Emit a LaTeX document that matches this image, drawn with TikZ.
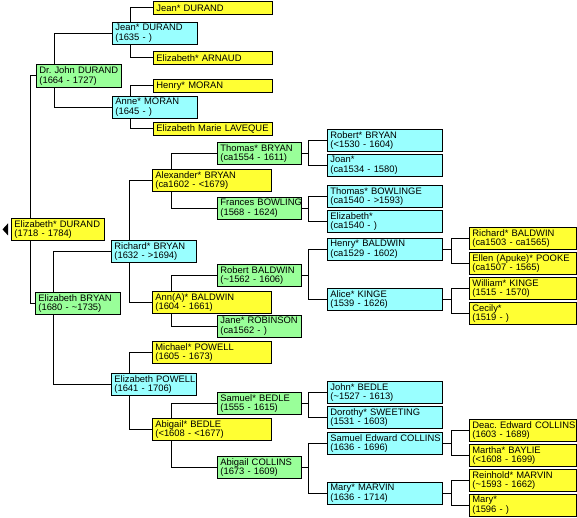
\documentclass[tikz,border=0pt]{standalone}
\usepackage{fontspec}
\setmainfont{Liberation Sans}
\definecolor{yel}{HTML}{FFFF33}
\definecolor{cya}{HTML}{99FFFF}
\definecolor{grn}{HTML}{99FF99}
\newcommand\two[2]{\mbox{#1}\\\mbox{#2}}
\begin{document}
\begin{tikzpicture}[x=1pt,y=-1pt,
  pbox/.style={draw, line width=0.8pt, anchor=north west, inner xsep=3pt, inner ysep=0pt,
    align=left, font=\fontsize{9.4}{9.5}\selectfont\frenchspacing, minimum height=22pt},
  yb/.style={pbox, fill=yel}, cb/.style={pbox, fill=cya}, gb/.style={pbox, fill=grn},
  c0/.style={text width=87pt, minimum width=93pt},
  c1/.style={text width=79pt, minimum width=85pt},
  c2/.style={text width=79pt, minimum width=85pt},
  c3/.style={text width=113pt, minimum width=119pt},
  c4/.style={text width=78pt, minimum width=84pt},
  c5/.style={text width=109pt, minimum width=115pt},
  c6/.style={text width=101pt, minimum width=107pt},
  one/.style={minimum height=13pt},
  conn/.style={line width=0.8pt}]
\useasboundingbox (0,0) rectangle (577,518);
\fill[white] (0,0) rectangle (577,518);
\newcommand\fork[4]{\draw[conn] (#1.east) -- ++(#4,0); \draw[conn] (#2.west) -| ([xshift=#4pt]#1.east) |- (#3.west);}
\newcommand\lbr[4]{\draw[conn] ([xshift=#4pt]#1.north west) |- (#2.west); \draw[conn] ([xshift=#4pt]#1.south west) |- (#3.west);}
% column 0
\node[yb,c0] (ED) at (11,218) {\two{Elizabeth* DURAND}{(1718 - 1784)}};
% column 1
\node[gb,c1,minimum height=23pt] (DJ) at (36,64) {\two{Dr. John DURAND}{(1664 - 1727)}};
\node[gb,c1] (EB) at (35,292) {\two{Elizabeth BRYAN}{(1680 - \textasciitilde1735)}};
% column 2
\node[cb,c2] (JD) at (112,22) {\two{Jean* DURAND}{(1635 - )}};
\node[cb,c2] (AM) at (112,96) {\two{Anne* MORAN}{(1645 - )}};
\node[cb,c2] (RB) at (111,240) {\two{Richard* BRYAN}{(1632 - >1694)}};
\node[cb,c2] (EP) at (111,373) {\two{Elizabeth POWELL}{(1641 - 1706)}};
% column 3
\node[yb,c3,one] (JD0) at (153,1) {\mbox{Jean* DURAND}};
\node[yb,c3,one] (EA) at (153,51) {\mbox{Elizabeth* ARNAUD}};
\node[yb,c3,one] (HM) at (153,79) {\mbox{Henry* MORAN}};
\node[yb,c3,one] (EL) at (153,122) {\mbox{Elizabeth Marie LAVEQUE}};
\node[yb,c3] (AB) at (152,169) {\two{Alexander* BRYAN}{(ca1602 - <1679)}};
\node[yb,c3] (AN) at (152,291) {\two{Ann(A)* BALDWIN}{(1604 - 1661)}};
\node[yb,c3] (MP) at (152,341) {\two{Michael* POWELL}{(1605 - 1673)}};
\node[yb,c3] (AbB) at (152,418) {\two{Abigail* BEDLE}{(<1608 - <1677)}};
% column 4
\node[gb,c4] (TB) at (217,142) {\two{Thomas* BRYAN}{(ca1554 - 1611)}};
\node[gb,c4] (FB) at (217,197) {\two{Frances BOWLING}{(1568 - 1624)}};
\node[gb,c4] (RBa) at (217,264) {\two{Robert BALDWIN}{(\textasciitilde1562 - 1606)}};
\node[gb,c4] (JR) at (217,315) {\two{Jane* ROBINSON}{(ca1562 - )}};
\node[gb,c4] (SB) at (217,392) {\two{Samuel* BEDLE}{(1555 - 1615)}};
\node[gb,c4] (AC) at (217,456) {\two{Abigail COLLINS}{(1673 - 1609)}};
% column 5
\node[cb,c5] (RoB) at (327,129) {\two{Robert* BRYAN}{(<1530 - 1604)}};
\node[cb,c5] (Jo) at (327,154) {\two{Joan*}{(ca1534 - 1580)}};
\node[cb,c5] (TBo) at (327,185) {\two{Thomas* BOWLINGE}{(ca1540 - >1593)}};
\node[cb,c5] (El) at (327,210) {\two{Elizabeth*}{(ca1540 - )}};
\node[cb,c5] (HB) at (327,238) {\two{Henry* BALDWIN}{(ca1529 - 1602)}};
\node[cb,c5] (AK) at (327,288) {\two{Alice* KINGE}{(1539 - 1626)}};
\node[cb,c5] (JB) at (327,381) {\two{John* BEDLE}{(\textasciitilde1527 - 1613)}};
\node[cb,c5] (DS) at (327,406) {\two{Dorothy* SWEETING}{(1531 - 1603)}};
\node[cb,c5] (SEC) at (327,432) {\two{Samuel Edward COLLINS}{(1636 - 1696)}};
\node[cb,c5] (MM) at (327,482) {\two{Mary* MARVIN}{(1636 - 1714)}};
% column 6
\node[yb,c6] (RiB) at (469,227) {\two{Richard* BALDWIN}{(ca1503 - ca1565)}};
\node[yb,c6] (EPk) at (469,252) {\two{Ellen (Apuke)* POOKE}{(ca1507 - 1565)}};
\node[yb,c6] (WK) at (469,277) {\two{William* KINGE}{(1515 - 1570)}};
\node[yb,c6] (Ce) at (469,302) {\two{Cecily*}{(1519 - )}};
\node[yb,c6] (DE) at (469,419) {\two{Deac. Edward COLLINS}{(1603 - 1689)}};
\node[yb,c6] (MB) at (469,444) {\two{Martha* BAYLIE}{(<1608 - 1699)}};
\node[yb,c6] (RM) at (469,469) {\two{Reinhold* MARVIN}{(\textasciitilde1593 - 1662)}};
\node[yb,c6] (My) at (469,494) {\two{Mary*}{(1596 - )}};
% connectors
\lbr{ED}{DJ}{EB}{19}
\lbr{DJ}{JD}{AM}{18}
\lbr{EB}{RB}{EP}{18}
\lbr{JD}{JD0}{EA}{18}
\lbr{AM}{HM}{EL}{18}
\lbr{RB}{AB}{AN}{18}
\lbr{EP}{MP}{AbB}{18}
\lbr{AB}{TB}{FB}{19}
\lbr{AN}{RBa}{JR}{19}
\lbr{AbB}{SB}{AC}{19}
\fork{TB}{RoB}{Jo}{7}
\fork{FB}{TBo}{El}{7}
\fork{RBa}{HB}{AK}{7}
\fork{SB}{JB}{DS}{7}
\fork{AC}{SEC}{MM}{7}
\fork{HB}{RiB}{EPk}{9}
\fork{AK}{WK}{Ce}{9}
\fork{SEC}{DE}{MB}{9}
\fork{MM}{RM}{My}{9}
% arrow marker
\fill ([xshift=-3pt,yshift=6pt]ED.west) -- ++(0,12) -- ++(-5.5,-6) -- cycle;
\end{tikzpicture}
\end{document}
